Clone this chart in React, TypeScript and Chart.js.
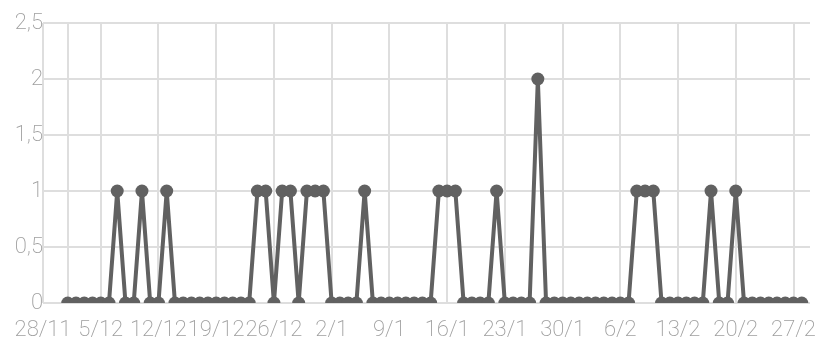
import React, { useEffect, useRef } from "react";
import { Chart, registerables } from "chart.js";

Chart.register(...registerables);

// Day offsets from 28/11 for the x-axis ticks, and their labels
const tickDays = [0, 3, 7, 14, 21, 28, 35, 42, 49, 56, 63, 70, 77, 84, 91];
const tickLabels = ["28/11", "", "5/12", "12/12", "19/12", "26/12", "2/1", "9/1", "16/1", "23/1", "30/1", "6/2", "13/2", "20/2", "27/2"];

// Daily values from 1/12 (day 3) to 28/2 (day 92)
const firstDay = 3;
const values = [
  0, 0, 0, 0, 0, 0, 1, 0, 0, 1, // 1/12 - 10/12
  0, 0, 1, 0, 0, 0, 0, 0, 0, 0, // 11/12 - 20/12
  0, 0, 0, 1, 1, 0, 1, 1, 0, 1, // 21/12 - 30/12
  1, 1, 0, 0, 0, 0, 1, 0, 0, 0, // 31/12 - 9/1
  0, 0, 0, 0, 0, 1, 1, 1, 0, 0, // 10/1 - 19/1
  0, 0, 1, 0, 0, 0, 0, 2, 0, 0, // 20/1 - 29/1
  0, 0, 0, 0, 0, 0, 0, 0, 0, 1, // 30/1 - 8/2
  1, 1, 0, 0, 0, 0, 0, 0, 1, 0, // 9/2 - 18/2
  0, 1, 0, 0, 0, 0, 0, 0, 0, 0, // 19/2 - 28/2
];

const yTicks = [0, 0.5, 1, 1.5, 2, 2.5];

export default function App() {
  const ref = useRef<HTMLCanvasElement>(null);
  useEffect(() => {
    document.body.style.margin = "0";
    const font = { family: "Roboto", weight: 200 as any, size: 22 };
    const chart = new Chart(ref.current!, {
      type: "line",
      data: {
        datasets: [
          {
            data: values.map((v, i) => ({ x: firstDay + i, y: v })),
            borderColor: "#616161",
            backgroundColor: "#616161",
            pointBackgroundColor: "#616161",
            pointBorderColor: "#616161",
            borderWidth: 4,
            pointRadius: 6.5,
            pointBorderWidth: 0,
            tension: 0,
          },
        ],
      },
      options: {
        animation: false,
        responsive: true,
        maintainAspectRatio: false,
        layout: { padding: { top: 23, right: 14, left: 0, bottom: 0 } },
        plugins: { legend: { display: false }, tooltip: { enabled: false } },
        scales: {
          x: {
            type: "linear",
            min: 0,
            max: 93,
            afterBuildTicks: (scale: any) => {
              scale.ticks = tickDays.map((v) => ({ value: v }));
            },
            afterFit: (scale: any) => {
              scale.height = 41;
              scale.paddingLeft = 0;
              scale.paddingRight = 0;
            },
            ticks: {
              autoSkip: false,
              maxRotation: 0,
              padding: 14,
              color: "#9e9e9e",
              font,
              callback: (v: any) => {
                const idx = tickDays.indexOf(Number(v));
                return idx >= 0 ? tickLabels[idx] : "";
              },
            },
            grid: { color: "#dedede", lineWidth: 2, drawTicks: false },
            border: { display: false },
          },
          y: {
            min: 0,
            max: 2.5,
            afterBuildTicks: (scale: any) => {
              scale.ticks = yTicks.map((v) => ({ value: v }));
            },
            afterFit: (scale: any) => {
              scale.width = 43;
              scale.paddingTop = 0;
              scale.paddingBottom = 0;
            },
            ticks: {
              padding: 0,
              color: "#9e9e9e",
              font,
              callback: (v: any) => String(v).replace(".", ","),
            },
            grid: { color: "#dedede", lineWidth: 2, drawTicks: false },
            border: { display: false },
          },
        },
      },
    });
    return () => chart.destroy();
  }, []);
  return (
    <div style={{ position: "absolute", left: 0, top: 0, width: 824, height: 344 }}>
      <canvas ref={ref} />
    </div>
  );
}
